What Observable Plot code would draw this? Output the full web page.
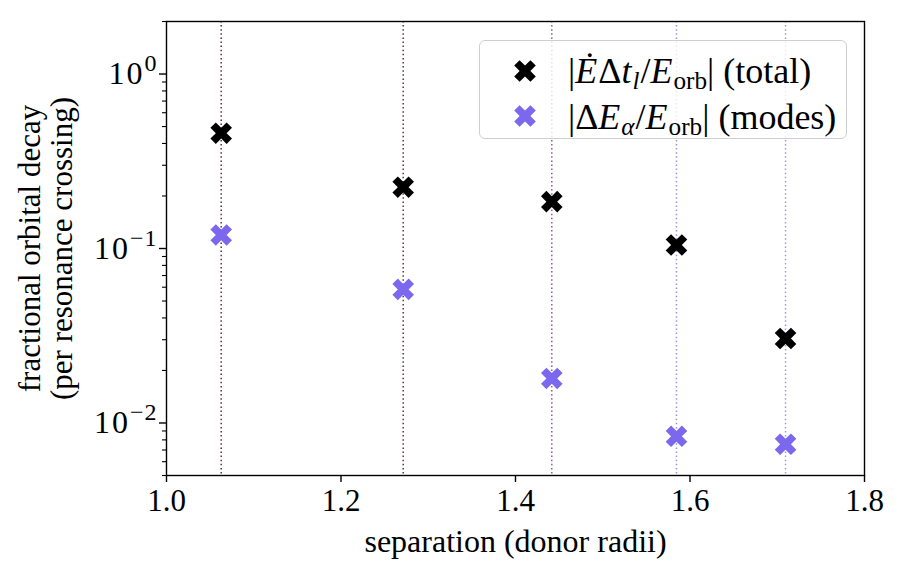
<!DOCTYPE html>
<html>
<head>
<meta charset="utf-8">
<script src="https://cdn.jsdelivr.net/npm/d3@7"></script>
<script src="https://cdn.jsdelivr.net/npm/@observablehq/plot@0.6"></script>
<style>
  html, body { margin: 0; padding: 0; background: white; }
  #wrap { position: relative; width: 901px; height: 574px; font-family: "Liberation Serif", "Times New Roman", serif; }
  #legend { position: absolute; left: 479px; top: 40px; width: 366px; height: 97px; box-sizing: content-box;
    border: 1.3px solid #cfcfcf; border-radius: 6px; background: rgba(255,255,255,0.8); }
  .sw { position: absolute; left: 34px; }
  .txt { position: absolute; left: 88px; height: 40px; font-size: 36px; line-height: 40px; white-space: nowrap; }
  .txt i { padding-right: 1px; }
  sub { font-size: 70%; vertical-align: -0.22em; line-height: 0; }
</style>
</head>
<body>
<div id="wrap"></div>
<script>
// ---- data ----
const separations = [1.0627, 1.2713, 1.4416, 1.5845, 1.7095];
const totalDecay = [0.458, 0.2246, 0.1856, 0.1047, 0.0305];
const modeDecay = [0.1196, 0.0583, 0.0180, 0.00839, 0.00755];
const lineColors = ["#5e3040", "#5e3040", "#8c5e90", "#9e8ed8", "#9c9ce6"];
const xTicks = [1.0, 1.2, 1.4, 1.6, 1.8];
const yMajorTicks = [1, 0.1, 0.01];
const seriesNames = ["total", "modes"];
const seriesColors = ["#000000", "#7b68ee"];

const minorTicks = [];
for (let k = -3; k <= 0; k++) for (let m = 2; m <= 9; m++) {
  const v = m * Math.pow(10, k);
  if (v >= 0.005 - 1e-12 && v <= 2 + 1e-9) minorTicks.push(v);
}

// matplotlib-like filled "X" marker
const filledX = {
  draw(context, size) {
    const r = Math.sqrt(size / Math.PI);
    const w = r * Math.SQRT2 / 4, a = 3 * w;
    const pts = [[-w,-a],[w,-a],[w,-w],[a,-w],[a,w],[w,w],[w,a],[-w,a],[-w,w],[-a,w],[-a,-w],[-w,-w]]
      .map(([x, y]) => [(x - y) / Math.SQRT2, (x + y) / Math.SQRT2]);
    context.moveTo(pts[0][0], pts[0][1]);
    for (let i = 1; i < pts.length; i++) context.lineTo(pts[i][0], pts[i][1]);
    context.closePath();
  }
};

const totalData = separations.map((s, i) => ({x: s, y: totalDecay[i]}));
const modeData = separations.map((s, i) => ({x: s, y: modeDecay[i]}));

const svg = Plot.plot({
  width: 901,
  height: 574,
  marginLeft: 166,
  marginRight: 37,
  marginTop: 21,
  marginBottom: 99,
  style: {fontFamily: '"Liberation Serif", "Times New Roman", serif', fontSize: "30px", color: "black", background: "white"},
  x: {domain: [1.0, 1.8]},
  y: {type: "log", domain: [0.005, 2]},
  marks: [
    ...separations.map((s, i) => Plot.ruleX([s], {stroke: lineColors[i], strokeWidth: 1.5, strokeDasharray: "1.5,2.6"})),
    Plot.dot(totalData, {x: "x", y: "y", symbol: filledX, r: 10.8, fill: seriesColors[0], stroke: "none"}),
    Plot.dot(modeData, {x: "x", y: "y", symbol: filledX, r: 10.8, fill: seriesColors[1], stroke: "none"}),
    Plot.frame({stroke: "black", strokeWidth: 1.4}),
    Plot.axisX(xTicks, {tickSize: 7, tickPadding: 6, strokeWidth: 1.4, tickFormat: d3.format(".1f"), fontSize: 31, label: null}),
    Plot.axisY(yMajorTicks, {tickSize: 7, tickPadding: 2, strokeWidth: 1.4, tickFormat: d => `10^${Math.round(Math.log10(d))}`, fontSize: 32, label: null}),
    Plot.axisY(minorTicks, {tickSize: 4, strokeWidth: 1.1, tickFormat: () => "", label: null}),
    Plot.text(["separation (donor radii)"], {frameAnchor: "bottom", dy: 76, fontSize: 32}),
    Plot.text(["fractional orbital decay\n(per resonance crossing)"], {frameAnchor: "left", textAnchor: "middle", rotate: -90, dx: -121, fontSize: 31, lineHeight: 1.03})
  ]
});

// superscript exponents on the log-axis tick labels
const ns = "http://www.w3.org/2000/svg";
svg.querySelectorAll("text").forEach(t => {
  const m = t.textContent.match(/^10\^(-?\d+)$/);
  if (m) {
    t.textContent = "";
    const base = document.createElementNS(ns, "tspan");
    base.setAttribute("letter-spacing", "2");
    base.textContent = "10";
    t.appendChild(base);
    const ts = document.createElementNS(ns, "tspan");
    ts.setAttribute("dy", "-0.55em");
    ts.setAttribute("font-size", "24px");
    ts.setAttribute("letter-spacing", "1");
    ts.textContent = m[1].replace("-", "\u2212");
    t.appendChild(ts);
  }
});

const wrap = document.getElementById("wrap");
wrap.appendChild(svg);

// legend
const legend = document.createElement("div");
legend.id = "legend";
const labels = [
  '|<i>\u0116</i>\u0394<i>t</i><sub><i>l</i></sub>/<i>E</i><sub>orb</sub>| (total)',
  '|\u0394<i>E</i><sub><i>\u03b1</i></sub>/<i>E</i><sub>orb</sub>| (modes)'
];
const swatchTops = [19, 64];
const textTops = [10, 56];
seriesNames.forEach((name, i) => {
  const sw = d3.create("svg").attr("class", "sw").attr("width", 22).attr("height", 22).style("top", swatchTops[i] + "px");
  const p = d3.path();
  filledX.draw(p, Math.PI * 10.8 * 10.8);
  sw.append("path").attr("transform", "translate(11,11)").attr("d", p.toString()).attr("fill", seriesColors[i]);
  legend.appendChild(sw.node());
  const t = document.createElement("div");
  t.className = "txt";
  t.style.top = textTops[i] + "px";
  t.innerHTML = labels[i];
  legend.appendChild(t);
});
wrap.appendChild(legend);
</script>
</body>
</html>
